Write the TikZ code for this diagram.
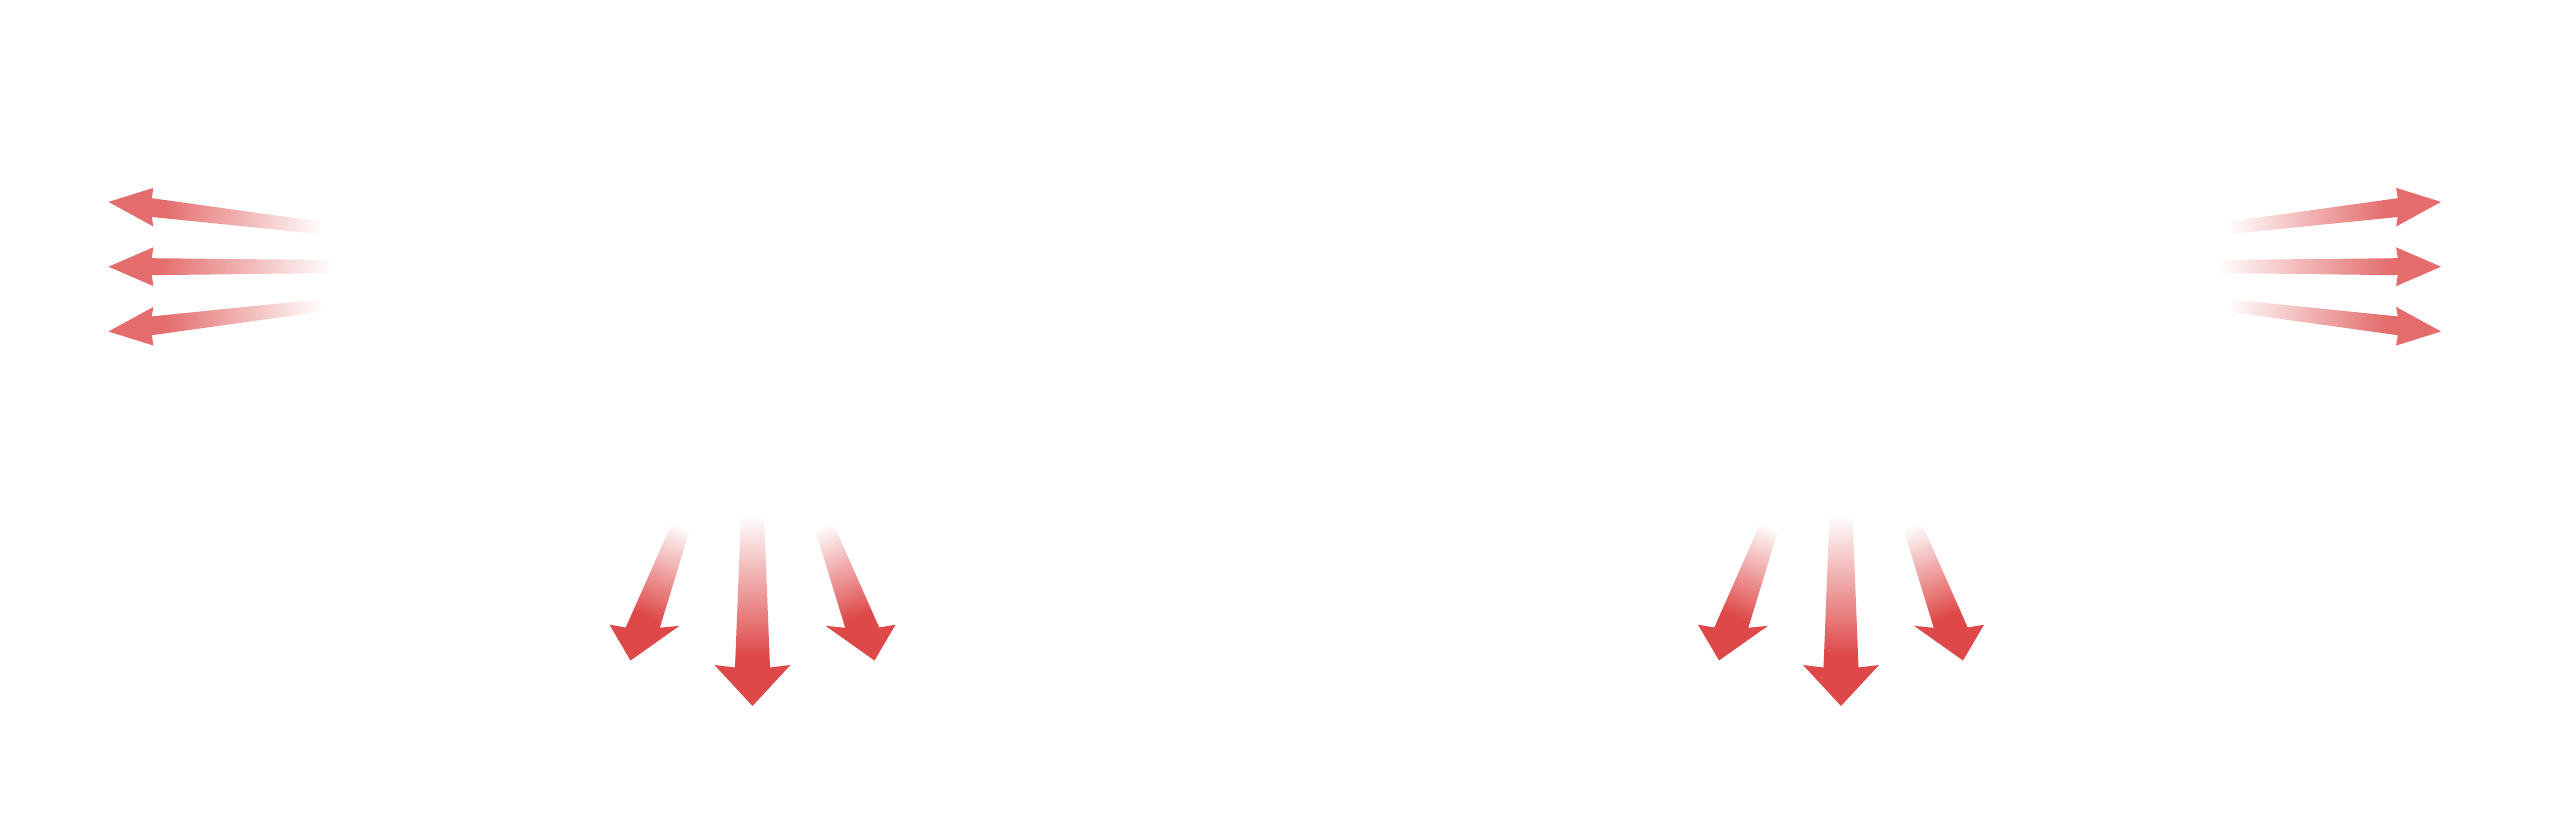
\documentclass[tikz,border=0pt]{standalone}
\definecolor{sidered}{RGB}{228,108,108}
\definecolor{botred}{RGB}{222,72,72}
\pgfdeclarehorizontalshading{sidefade}{100bp}{color(0bp)=(sidered); color(36bp)=(sidered); color(75bp)=(white); color(100bp)=(white)}
\pgfdeclareverticalshading{botfade}{100bp}{color(0bp)=(botred); color(38bp)=(botred); color(75bp)=(white); color(100bp)=(white)}
\tikzset{
  sidearrowL/.style={shading=sidefade},
  sidearrowR/.style={shading=sidefade},
  botarrow/.style={shading=botfade}
}
\newcommand\bottomgroup{%
  % middle arrow
  \shade[botarrow] (0,706) -- (-38,665) -- (-17.5,667.5) -- (-11.5,515) -- (11.5,515) -- (17.5,667.5) -- (38,665) -- cycle;
  % left arrow
  \shade[botarrow, shading angle=-20.8] (-122,660.5) -- (-143,624.7) -- (-126.7,627.5) -- (-74.7,510) -- (-56.6,510) -- (-92.7,627.8) -- (-73,625.8) -- cycle;
  % right arrow
  \shade[botarrow, shading angle=20.8] (122,660.5) -- (143,624.7) -- (126.7,627.5) -- (74.7,510) -- (56.6,510) -- (92.7,627.8) -- (73,625.8) -- cycle;
}
\begin{document}
\begin{tikzpicture}[x=1pt,y=-1pt]
\useasboundingbox[fill=white] (0,0) rectangle (2560,817);
% left group
\shade[sidearrowL, shading angle=-7] (108.5,201.9) -- (153.4,187.9) -- (151.8,198.2) -- (333,223.4) -- (333,235.4) -- (151.8,217) -- (153.4,226.5) -- cycle;
\shade[sidearrowL] (108.5,266.7) -- (153.4,247.3) -- (151.8,258.2) -- (333,260) -- (333,273) -- (151.8,275.2) -- (153.4,286.1) -- cycle;
\shade[sidearrowL, shading angle=7] (108.5,331.5) -- (153.4,345.5) -- (151.8,335.2) -- (333,310) -- (333,298) -- (151.8,316.4) -- (153.4,306.9) -- cycle;
% right group
\shade[sidearrowR, shading angle=187] (2441,201.9) -- (2396.1,187.9) -- (2397.7,198.2) -- (2216.5,223.4) -- (2216.5,235.4) -- (2397.7,217) -- (2396.1,226.5) -- cycle;
\shade[sidearrowR, shading angle=180] (2441,266.7) -- (2396.1,247.3) -- (2397.7,258.2) -- (2216.5,260) -- (2216.5,273) -- (2397.7,275.2) -- (2396.1,286.1) -- cycle;
\shade[sidearrowR, shading angle=173] (2441,331.5) -- (2396.1,345.5) -- (2397.7,335.2) -- (2216.5,310) -- (2216.5,298) -- (2397.7,316.4) -- (2396.1,306.9) -- cycle;
% bottom groups
\begin{scope}[shift={(752.5,0)}]
  \bottomgroup
\end{scope}
\begin{scope}[shift={(1841,0)}]
  \bottomgroup
\end{scope}
\end{tikzpicture}
\end{document}
